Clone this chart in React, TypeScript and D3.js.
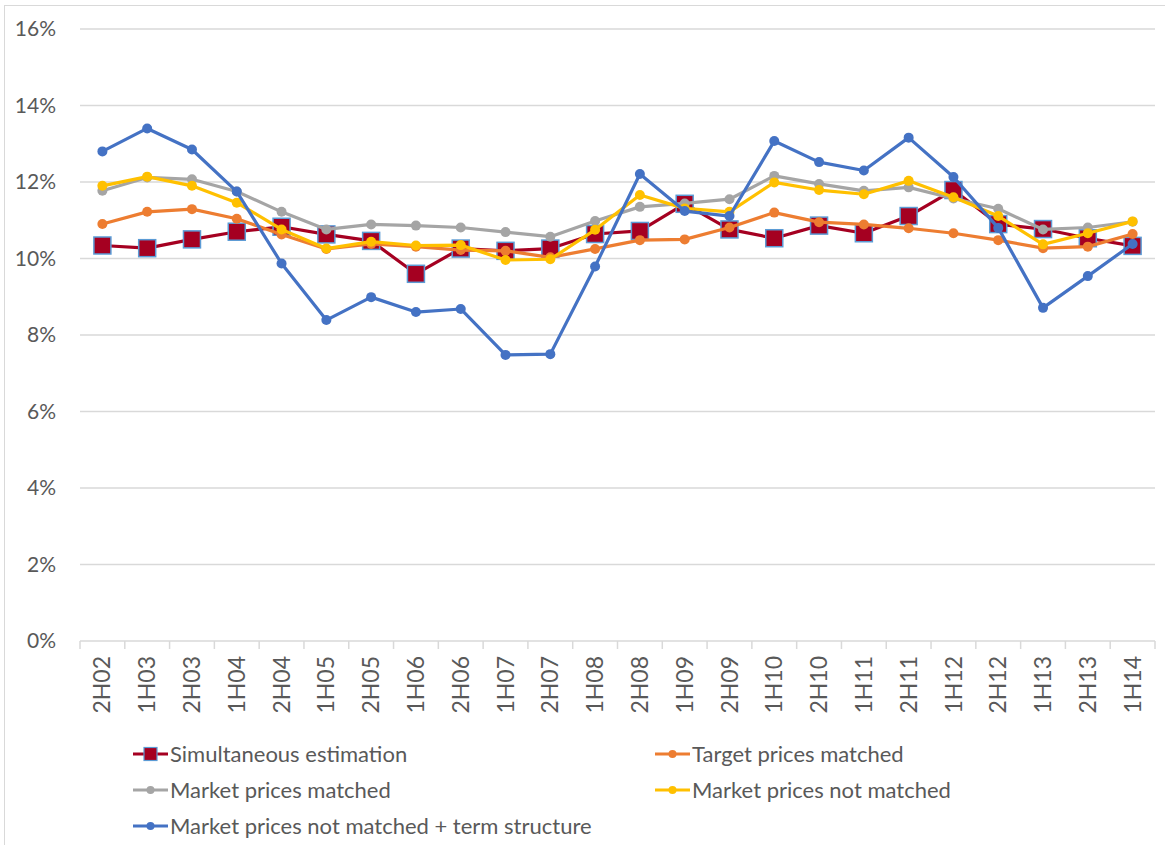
import React from "react";
import * as d3 from "d3";

const periods = ["2H02", "1H03", "2H03", "1H04", "2H04", "1H05", "2H05", "1H06", "2H06", "1H07", "2H07", "1H08",
  "2H08", "1H09", "2H09", "1H10", "2H10", "1H11", "2H11", "1H12", "2H12", "1H13", "2H13", "1H14"];

const simultaneous = [10.34, 10.27, 10.5, 10.7, 10.83, 10.63, 10.46, 9.6, 10.26, 10.2, 10.26, 10.64,
  10.72, 11.43, 10.76, 10.53, 10.86, 10.66, 11.11, 11.79, 10.9, 10.77, 10.53, 10.33];
const targetMatched = [10.9, 11.22, 11.29, 11.04, 10.63, 10.25, 10.38, 10.31, 10.22, 10.2, 10.03, 10.25,
  10.48, 10.5, 10.81, 11.2, 10.95, 10.89, 10.79, 10.66, 10.48, 10.27, 10.31, 10.64];
const marketMatched = [11.77, 12.12, 12.07, 11.75, 11.22, 10.76, 10.89, 10.86, 10.81, 10.69, 10.57, 10.98,
  11.35, 11.44, 11.55, 12.16, 11.95, 11.77, 11.86, 11.57, 11.3, 10.76, 10.81, 10.96];
const marketNotMatched = [11.9, 12.14, 11.9, 11.46, 10.76, 10.26, 10.44, 10.34, 10.35, 9.96, 9.98, 10.75,
  11.66, 11.31, 11.22, 11.99, 11.79, 11.68, 12.03, 11.6, 11.11, 10.37, 10.66, 10.97];
const termStructure = [12.8, 13.4, 12.85, 11.75, 9.87, 8.39, 8.99, 8.6, 8.68, 7.48, 7.5, 9.79,
  12.21, 11.24, 11.11, 13.07, 12.52, 12.3, 13.16, 12.13, 10.8, 8.71, 9.54, 10.38];

const yTicks = [0, 2, 4, 6, 8, 10, 12, 14, 16];

const series = [
  { name: "Simultaneous estimation", values: simultaneous, color: "#A50021", marker: "square" },
  { name: "Target prices matched", values: targetMatched, color: "#ED7D31", marker: "circle" },
  { name: "Market prices matched", values: marketMatched, color: "#A5A5A5", marker: "circle" },
  { name: "Market prices not matched", values: marketNotMatched, color: "#FFC000", marker: "circle" },
  { name: "Market prices not matched + term structure", values: termStructure, color: "#4472C4", marker: "circle" },
];

const FONT = "Lato, 'Open Sans', sans-serif";
const TEXT = "#595959";

export default function App() {
  const W = 1165;
  const H = 845;

  const x = d3.scaleBand().domain(periods).range([80, 1155]).padding(0);
  const y = d3.scaleLinear().domain([0, 16]).range([641, 29]);
  const cx = (p: string) => (x(p) as number) + x.bandwidth() / 2;

  const line = d3
    .line<number>()
    .x((_, i) => cx(periods[i]))
    .y((d) => y(d));

  // legend layout: two columns, three rows
  const legendPos = [
    [133, 754], [655, 754],
    [133, 790], [655, 790],
    [133, 826],
  ];

  return (
    <svg width={W} height={H} style={{ position: "absolute", left: 0, top: 0, background: "#fff" }}>
      <rect x={4.5} y={5.5} width={W + 10} height={H + 10} fill="#fff" stroke="#D9D9D9" strokeWidth={1} />

      {/* gridlines */}
      {yTicks.map((t) => (
        <line key={t} x1={80} x2={1155} y1={y(t)} y2={y(t)} stroke="#D9D9D9" strokeWidth={1.5} />
      ))}
      {/* category ticks */}
      {d3.range(periods.length + 1).map((i) => {
        const xx = 80 + i * x.step();
        return <line key={i} x1={xx} x2={xx} y1={y(0)} y2={y(0) + 8} stroke="#D9D9D9" strokeWidth={1.5} />;
      })}

      {/* y labels */}
      {yTicks.map((t) => (
        <text key={t} x={56} y={y(t)} dy="0.35em" textAnchor="end" fontFamily={FONT} fontSize={21} fill={TEXT}>
          {t + "%"}
        </text>
      ))}

      {/* x labels */}
      {periods.map((p) => (
        <text
          key={p}
          transform={`translate(${cx(p)},${656}) rotate(-90)`}
          textAnchor="end"
          dy="0.35em"
          fontFamily={FONT}
          fontSize={23}
          fill={TEXT}
        >
          {p}
        </text>
      ))}

      {/* series */}
      {series.map((s) => (
        <g key={s.name}>
          <path d={line(s.values) as string} fill="none" stroke={s.color} strokeWidth={3.2} strokeLinejoin="round" />
          {s.values.map((v, i) =>
            s.marker === "square" ? (
              <rect key={i} x={cx(periods[i]) - 8.5} y={y(v) - 8.5} width={17} height={17}
                fill={s.color} stroke="#5B9BD5" strokeWidth={1.5} />
            ) : (
              <circle key={i} cx={cx(periods[i])} cy={y(v)} r={5} fill={s.color} />
            )
          )}
        </g>
      ))}

      {/* legend */}
      {series.map((s, i) => {
        const [lx, ly] = legendPos[i];
        return (
          <g key={s.name} transform={`translate(${lx},${ly})`}>
            <line x1={0} x2={35} y1={0} y2={0} stroke={s.color} strokeWidth={3} />
            {s.marker === "square" ? (
              <rect x={11} y={-6.5} width={13} height={13} fill={s.color} stroke="#5B9BD5" strokeWidth={1.2} />
            ) : (
              <circle cx={17.5} cy={0} r={4} fill={s.color} />
            )}
            <text x={37} y={0} dy="0.35em" fontFamily={FONT} fontSize={22} fill={TEXT}>
              {s.name}
            </text>
          </g>
        );
      })}
    </svg>
  );
}
